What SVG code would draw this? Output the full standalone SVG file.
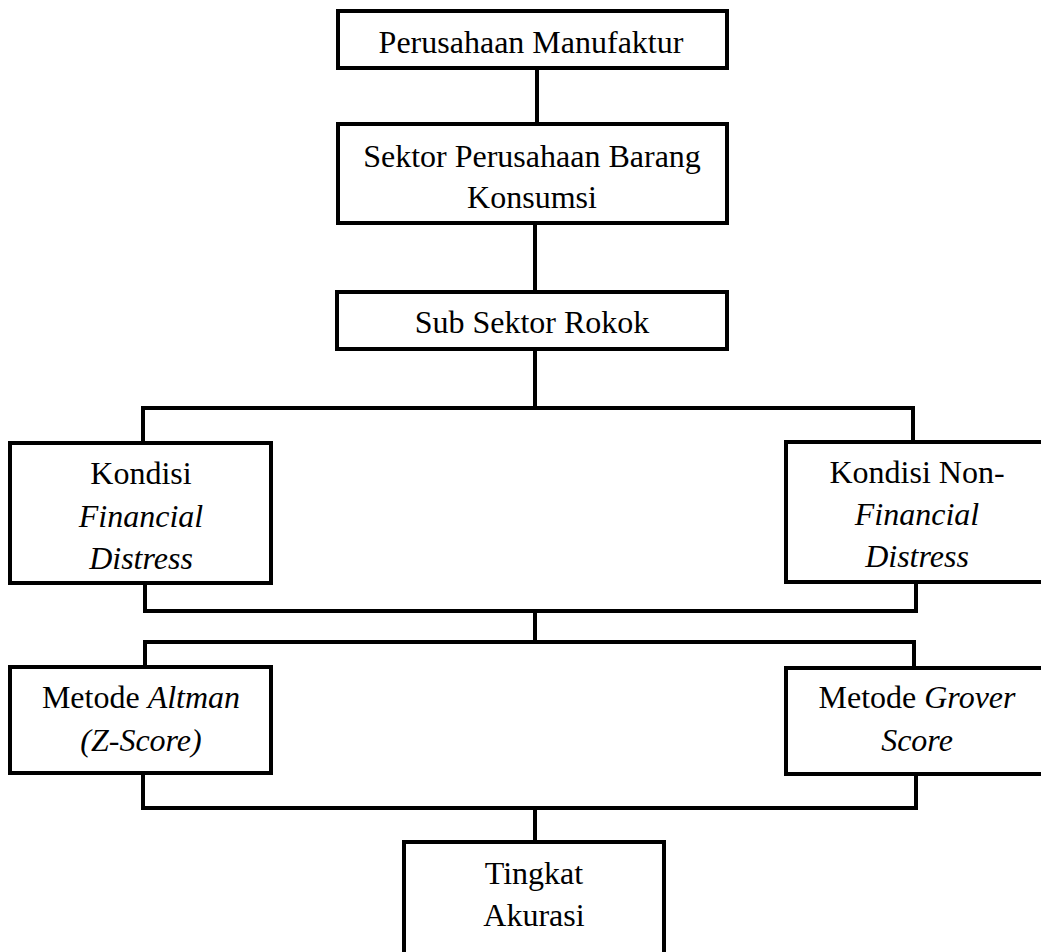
<svg xmlns="http://www.w3.org/2000/svg" width="1041" height="952" viewBox="0 0 1041 952">
<defs>
<style>
.box{fill:#fff;stroke:#000;stroke-width:4}
.ln{fill:none;stroke:#000;stroke-width:4}
.i{font-style:italic}
</style>
</defs>
<rect width="1041" height="952" fill="#fff"/>
<g id="connectors">
<path class="ln" d="M537 68V124"/>
<path class="ln" d="M535 223V292"/>
<path class="ln" d="M535 349V408"/>
<path class="ln" d="M143 443V408H913V442"/>
<path class="ln" d="M145 583V611H916V582"/>
<path class="ln" d="M535 611V642"/>
<path class="ln" d="M145 667V642H914V668"/>
<path class="ln" d="M143 773V808H916V774"/>
<path class="ln" d="M535 808V842"/>
</g>
<g font-family="'Liberation Serif', 'Times New Roman', serif" font-size="32" text-anchor="middle" fill="#000">
<g id="n1"><rect class="box" x="338" y="11" width="389" height="57"/><text x="531" y="53">Perusahaan Manufaktur</text></g>
<g id="n2"><rect class="box" x="338" y="124" width="389" height="99"/><text x="532" y="167">Sektor Perusahaan Barang</text><text x="532" y="208">Konsumsi</text></g>
<g id="n3"><rect class="box" x="337" y="292" width="390" height="57"/><text x="532" y="333">Sub Sektor Rokok</text></g>
<g id="n4"><rect class="box" x="10" y="443" width="261" height="140"/><text x="141" y="484">Kondisi</text><text class="i" x="141" y="527">Financial</text><text class="i" x="141" y="569">Distress</text></g>
<g id="n5"><rect class="box" x="786" y="442" width="262" height="140"/><text x="917" y="483">Kondisi Non-</text><text class="i" x="917" y="525">Financial</text><text class="i" x="917" y="567">Distress</text></g>
<g id="n6"><rect class="box" x="10" y="667" width="261" height="106"/><text x="141" y="708">Metode <tspan class="i">Altman</tspan></text><text class="i" x="141" y="751">(Z-Score)</text></g>
<g id="n7"><rect class="box" x="786" y="668" width="262" height="106"/><text x="917" y="708">Metode <tspan class="i">Grover</tspan></text><text class="i" x="917" y="751">Score</text></g>
<g id="n8"><rect class="box" x="404" y="842" width="260" height="120"/><text x="534" y="884">Tingkat</text><text x="534" y="926">Akurasi</text></g>
</g>
</svg>
